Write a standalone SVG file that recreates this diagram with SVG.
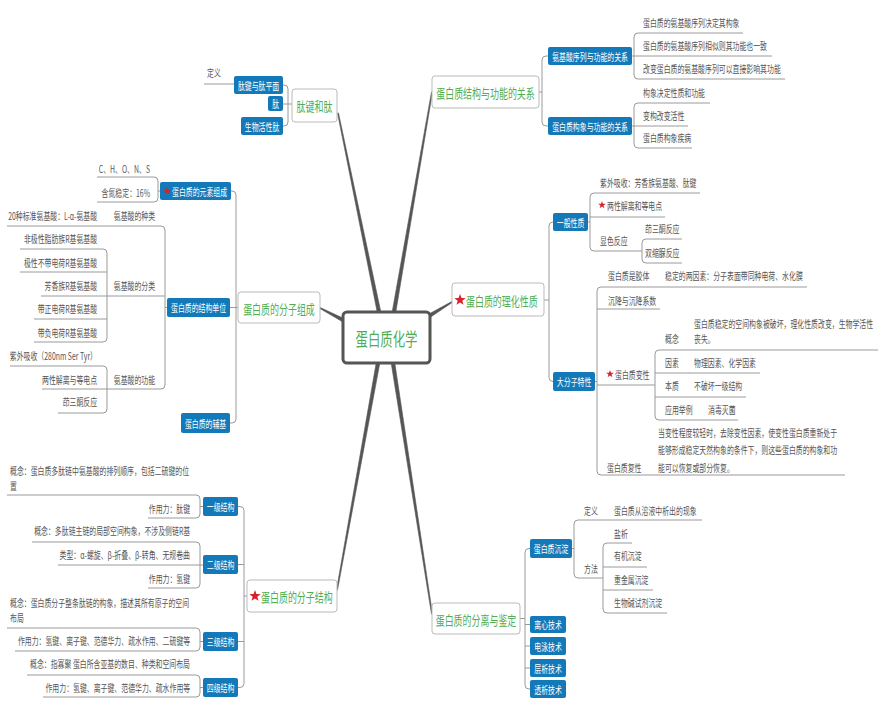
<svg xmlns="http://www.w3.org/2000/svg" width="884" height="710" viewBox="0 0 884 710">
<defs>
<style>
text{font-family:"Noto Sans CJK SC","Noto Sans",sans-serif;font-size:10px;fill:#555;dominant-baseline:central;transform-box:fill-box;transform-origin:0 0;transform:scaleX(.69)}
.e{text-anchor:end;transform-origin:100% 0}
.m{text-anchor:middle;transform-origin:50% 0}
.w{fill:#fff}
.g{fill:#52ad52;font-size:13px}
.c{font-size:18px}
.b{fill:#1479b8}
.n{fill:#fff;stroke:#bbb;stroke-width:1}
.l{fill:none;stroke:#9a9a9a;stroke-width:1}
.k{fill:#555;stroke:#555;stroke-width:.6;stroke-linejoin:round}
</style>
<path id="st" d="M0,-5L1.18,-1.62L4.76,-1.55L1.9,0.62L2.94,4.05L0,2L-2.94,4.05L-1.9,0.62L-4.76,-1.55L-1.18,-1.62Z" fill="#d6202a"/>
</defs>
<rect width="884" height="710" fill="#fff"/>
<g id="connectors">
<g class="k">
<polygon points="337.51,113.10 338.49,112.90 380.76,311.64 377.24,312.36"/>
<polygon points="431.51,91.92 432.49,92.08 395.77,312.31 392.23,311.69"/>
<polygon points="451.74,301.57 452.26,302.43 429.94,317.54 428.06,314.46"/>
<polygon points="319.77,308.44 320.23,307.56 343.83,318.40 342.17,321.60"/>
<polygon points="336.51,589.91 337.49,590.09 379.77,363.32 376.23,362.68"/>
<polygon points="431.51,614.08 432.49,613.92 394.78,362.72 391.22,363.28"/>
</g>
<path class="l" d="M283 85H284Q288 85 288 89V122Q288 126 284 126H283M283 104H292M204 84H234"/>
<path class="l" d="M231 191H232Q236 191 236 195V419Q236 423 232 423H230M230 307.5H238"/>
<path class="l" d="M97 177H154Q158 177 158 181V198Q158 202 154 202H97M158 191H160"/>
<path class="l" d="M7 226H161Q165 226 165 230V385Q165 389 161 389H42M41 296H165M165 307.5H167"/>
<path class="l" d="M20 249H103Q107 249 107 253V338Q107 342 103 342H34M20 272H107M34 319H107"/>
<path class="l" d="M10 366H103Q107 366 107 370V409Q107 413 103 413H58"/>
<path class="l" d="M238 506.5H240Q244 506.5 244 510.5V683.5Q244 687.5 240 687.5H238M238 564.5H244M238 641.5H244M244 596H247"/>
<path class="l" d="M7 495H196Q200 495 200 499V514Q200 518 196 518H148M200 506.5H203"/>
<path class="l" d="M32 542H196Q200 542 200 546V584Q200 588 196 588H148M58 565H203"/>
<path class="l" d="M7 628H196Q200 628 200 632V647Q200 651 196 651H15M200 641.5H203"/>
<path class="l" d="M27 675H196Q200 675 200 679V693Q200 697 196 697H43M200 687.5H203"/>
<path class="l" d="M548 56H546Q542 56 542 60V122Q542 126 546 126H548M539 92H542"/>
<path class="l" d="M743 33H638Q634 33 634 37V75Q634 79 638 79H785M632 56H772"/>
<path class="l" d="M710 103H638Q634 103 634 107V144Q634 148 638 148H692M632 126H688"/>
<path class="l" d="M553 222Q549 222 549 226V377.5Q549 381.5 553 381.5M544 300H549"/>
<path class="l" d="M700 193H594Q590 193 590 197V247Q590 251 594 251H642M588 222H590M590 217H665"/>
<path class="l" d="M682 239H646Q642 239 642 243V259Q642 263 646 263H682"/>
<path class="l" d="M807 287H601Q597 287 597 291V471Q597 475 601 475H845M595 381.5H597M597 309H660M597 385H655"/>
<path class="l" d="M878 350H659Q655 350 655 354V416Q655 420 659 420H738M655 373H760M655 397H746"/>
<path class="l" d="M530 548.5H529Q525 548.5 525 552.5V685Q525 689 529 689H530M520 618.5H525M525 624.5H530M525 646H530M525 668H530"/>
<path class="l" d="M702 520H578Q574 520 574 524V574Q574 578 578 578H603M572 548.5H574"/>
<path class="l" d="M632 543H607Q603 543 603 547V609Q603 613 607 613H667M603 567H647M603 590H653"/>
</g>

<g id="center">
<rect x="343" y="312" width="87" height="51" rx="4" fill="#fff" stroke="#555" stroke-width="3"/>
<text class="m g c" x="386.5" y="338">蛋白质化学</text>
</g>

<!-- 肽键和肽 -->
<g id="n-tj"><rect class="n" x="292" y="89" width="45" height="33" rx="3"/><text class="m g" x="314.5" y="105.5">肽键和肽</text></g>
<g id="n-tjpm"><rect class="b" x="234" y="76" width="49" height="18" rx="2"/><text class="m w" x="258.5" y="85">肽键与肽平面</text></g>
<g id="n-dy0"><text x="207" y="72">定义</text></g>
<g id="n-t"><rect class="b" x="268" y="96" width="15" height="15" rx="2"/><text class="m w" x="275.5" y="103.5">肽</text></g>
<g id="n-swhxt"><rect class="b" x="241" y="117" width="42" height="18" rx="2"/><text class="m w" x="262" y="126">生物活性肽</text></g>

<!-- 分子组成 -->
<g id="n-fzzc"><rect class="n" x="238" y="292" width="82" height="31" rx="3"/><text class="m g" x="279" y="308">蛋白质的分子组成</text></g>
<g id="n-ysz"><rect class="b" x="160" y="182" width="71" height="18" rx="2"/><use href="#st" transform="translate(167,191) scale(.8)"/><text class="w" x="172" y="191">蛋白质的元素组成</text></g>
<g id="n-chons"><text class="e" x="150" y="168">C、H、O、N、S</text></g>
<g id="n-hd"><text class="e" x="150" y="192">含氮稳定：16%</text></g>
<g id="n-jgdw"><rect class="b" x="167" y="298" width="63" height="19" rx="2"/><text class="m w" x="198.5" y="307.5">蛋白质的结构单位</text></g>
<g id="n-zl"><text class="e" x="155" y="215">氨基酸的种类</text></g>
<g id="n-20"><text class="e" x="97" y="215">20种标准氨基酸：L-α-氨基酸</text></g>
<g id="n-fl"><text class="e" x="155" y="285">氨基酸的分类</text></g>
<g id="n-fl1"><text class="e" x="97" y="238">非极性脂肪族R基氨基酸</text></g>
<g id="n-fl2"><text class="e" x="97" y="262">极性不带电荷R基氨基酸</text></g>
<g id="n-fl3"><text class="e" x="97" y="285">芳香族R基氨基酸</text></g>
<g id="n-fl4"><text class="e" x="97" y="308">带正电荷R基氨基酸</text></g>
<g id="n-fl5"><text class="e" x="97" y="332">带负电荷R基氨基酸</text></g>
<g id="n-gn"><text class="e" x="155" y="379">氨基酸的功能</text></g>
<g id="n-gn1"><text class="e" x="97" y="355">紫外吸收（280nm Ser Tyr）</text></g>
<g id="n-gn2"><text class="e" x="97" y="379">两性解离与等电点</text></g>
<g id="n-gn3"><text class="e" x="97" y="401">茚三酮反应</text></g>
<g id="n-fj"><rect class="b" x="181" y="413" width="49" height="20" rx="2"/><text class="m w" x="205.5" y="423">蛋白质的辅基</text></g>

<!-- 分子结构 -->
<g id="n-fzjg"><rect class="n" x="247" y="580" width="90" height="32" rx="3"/><use href="#st" transform="translate(255,596) scale(1.2)"/><text class="g" x="261" y="596">蛋白质的分子结构</text></g>
<g id="n-yj"><rect class="b" x="203" y="497" width="35" height="19" rx="2"/><text class="m w" x="220.5" y="506.5">一级结构</text></g>
<g id="n-yj1"><text x="10" y="470">概念：蛋白质多肽链中氨基酸的排列顺序，包括二硫键的位</text><text x="10" y="485">置</text></g>
<g id="n-yj2"><text class="e" x="190" y="508">作用力：肽键</text></g>
<g id="n-ej"><rect class="b" x="203" y="555" width="35" height="19" rx="2"/><text class="m w" x="220.5" y="564.5">二级结构</text></g>
<g id="n-ej1"><text class="e" x="190" y="530">概念：多肽链主链的局部空间构象，不涉及侧链R基</text></g>
<g id="n-ej2"><text class="e" x="190" y="554">类型：α-螺旋、β-折叠、β-转角、无规卷曲</text></g>
<g id="n-ej3"><text class="e" x="190" y="578">作用力：氢键</text></g>
<g id="n-sj"><rect class="b" x="203" y="632" width="35" height="19" rx="2"/><text class="m w" x="220.5" y="641.5">三级结构</text></g>
<g id="n-sj1"><text x="10" y="602">概念：蛋白质分子整条肽链的构象，描述其所有原子的空间</text><text x="10" y="617">布局</text></g>
<g id="n-sj2"><text class="e" x="190" y="640">作用力：氢键、离子键、范德华力、疏水作用、二硫键等</text></g>
<g id="n-sij"><rect class="b" x="203" y="678" width="35" height="19" rx="2"/><text class="m w" x="220.5" y="687.5">四级结构</text></g>
<g id="n-sij1"><text class="e" x="190" y="663">概念：指寡聚 蛋白所含亚基的数目、种类和空间布局</text></g>
<g id="n-sij2"><text class="e" x="190" y="687">作用力：氢键、离子键、范德华力、疏水作用等</text></g>

<!-- 结构与功能 -->
<g id="n-jggn"><rect class="n" x="432" y="76" width="107" height="32" rx="3"/><text class="m g" x="485.5" y="92">蛋白质结构与功能的关系</text></g>
<g id="n-xl"><rect class="b" x="548" y="47" width="84" height="18" rx="2"/><text class="m w" x="590" y="56">氨基酸序列与功能的关系</text></g>
<g id="n-xl1"><text x="643" y="22">蛋白质的氨基酸序列决定其构象</text></g>
<g id="n-xl2"><text x="643" y="45">蛋白质的氨基酸序列相似则其功能也一致</text></g>
<g id="n-xl3"><text x="643" y="68">改变蛋白质的氨基酸序列可以直接影响其功能</text></g>
<g id="n-gx"><rect class="b" x="548" y="117" width="84" height="18" rx="2"/><text class="m w" x="590" y="126">蛋白质构象与功能的关系</text></g>
<g id="n-gx1"><text x="643" y="92">构象决定性质和功能</text></g>
<g id="n-gx2"><text x="643" y="115">变构改变活性</text></g>
<g id="n-gx3"><text x="643" y="137">蛋白质构象疾病</text></g>

<!-- 理化性质 -->
<g id="n-lh"><rect class="n" x="452" y="283" width="92" height="33" rx="3"/><use href="#st" transform="translate(460,300) scale(1.2)"/><text class="g" x="466" y="300">蛋白质的理化性质</text></g>
<g id="n-yb"><rect class="b" x="553" y="213" width="35" height="18" rx="2"/><text class="m w" x="570.5" y="222">一般性质</text></g>
<g id="n-yb1"><text x="600" y="182">紫外吸收：芳香族氨基酸、肽键</text></g>
<g id="n-yb2"><use href="#st" transform="translate(602,205) scale(.8)"/><text x="607" y="205">两性解离和等电点</text></g>
<g id="n-yb3"><text x="600" y="240">显色反应</text></g>
<g id="n-ys1"><text x="645" y="228">茚三酮反应</text></g>
<g id="n-ys2"><text x="645" y="252">双缩脲反应</text></g>
<g id="n-dfz"><rect class="b" x="553" y="372" width="42" height="19" rx="2"/><text class="m w" x="574" y="381.5">大分子特性</text></g>
<g id="n-jt"><text x="608" y="275">蛋白质是胶体</text><text x="665" y="275">稳定的两因素：分子表面带同种电荷、水化膜</text></g>
<g id="n-cj"><text x="608" y="300">沉降与沉降系数</text></g>
<g id="n-bx"><use href="#st" transform="translate(610,374) scale(.8)"/><text x="615" y="374">蛋白质变性</text></g>
<g id="n-bx1"><text x="665" y="338">概念</text><text x="694" y="323">蛋白质稳定的空间构象被破坏，理化性质改变，生物学活性</text><text x="694" y="338">丧失。</text></g>
<g id="n-bx2"><text x="665" y="362">因素</text><text x="694" y="362">物理因素、化学因素</text></g>
<g id="n-bx3"><text x="665" y="385">本质</text><text x="694" y="385">不破坏一级结构</text></g>
<g id="n-bx4"><text x="665" y="409">应用举例</text><text x="708" y="409">消毒灭菌</text></g>
<g id="n-fx"><text x="607" y="467">蛋白质复性</text><text x="658" y="432">当变性程度较轻时，去除变性因素，使变性蛋白质重新处于</text><text x="658" y="449">能够形成稳定天然构象的条件下，则这些蛋白质的构象和功</text><text x="658" y="467">能可以恢复或部分恢复。</text></g>

<!-- 分离与鉴定 -->
<g id="n-flj"><rect class="n" x="432" y="603" width="88" height="31" rx="3"/><text class="m g" x="476" y="619">蛋白质的分离与鉴定</text></g>
<g id="n-cd"><rect class="b" x="530" y="539" width="42" height="19" rx="2"/><text class="m w" x="551" y="548.5">蛋白质沉淀</text></g>
<g id="n-cd1"><text x="584" y="510">定义</text><text x="614" y="510">蛋白质从溶液中析出的现象</text></g>
<g id="n-cd2"><text x="584" y="568">方法</text></g>
<g id="n-ff1"><text x="614" y="533">盐析</text></g>
<g id="n-ff2"><text x="614" y="555">有机沉淀</text></g>
<g id="n-ff3"><text x="614" y="579">重金属沉淀</text></g>
<g id="n-ff4"><text x="614" y="602">生物碱试剂沉淀</text></g>
<g id="n-lx"><rect class="b" x="530" y="616" width="36" height="17" rx="2"/><text class="m w" x="548" y="624.5">离心技术</text></g>
<g id="n-dy"><rect class="b" x="530" y="637" width="36" height="18" rx="2"/><text class="m w" x="548" y="646">电泳技术</text></g>
<g id="n-cx"><rect class="b" x="530" y="659" width="36" height="18" rx="2"/><text class="m w" x="548" y="668">层析技术</text></g>
<g id="n-tx"><rect class="b" x="530" y="680" width="36" height="18" rx="2"/><text class="m w" x="548" y="689">透析技术</text></g>
</svg>
